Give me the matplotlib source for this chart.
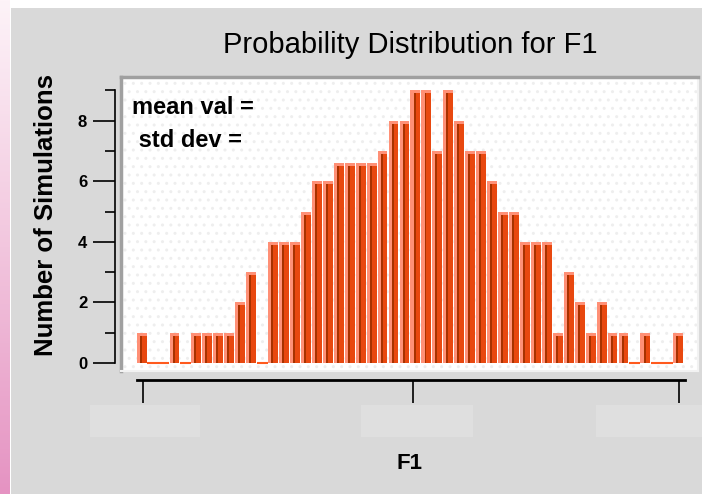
import numpy as np
import matplotlib.pyplot as plt
from matplotlib.patches import Rectangle
from matplotlib.colors import LinearSegmentedColormap

# histogram counts, one per bin
counts = [1, 0, 0, 1, 0, 1, 1, 1, 1, 2, 3, 0, 4, 4, 4, 5, 6, 6, 6.6, 6.6,
          6.6, 6.6, 7, 8, 8, 9, 9, 7, 9, 8, 7, 7, 6, 5, 5, 4, 4, 4, 1, 3,
          2, 1, 2, 1, 1, 0, 1, 0, 0, 1]
yticks_major = [0, 2, 4, 6, 8]
yticks_minor = [1, 3, 5, 7, 9]
title = "Probability Distribution for F1"
xlabel = "F1"
ylabel = "Number of Simulations"
stats_text = ["mean val =", " std dev ="]

plt.rcParams['font.family'] = ['Liberation Sans', 'DejaVu Sans']

W, H = 702, 494
fig = plt.figure(figsize=(W / 100, H / 100), dpi=100)
fig.patch.set_facecolor("white")

def fx(px):
    return px / W

def fy(py):
    return 1 - py / H

# grey panel + pink strip on the left
fig.patches.append(Rectangle((fx(11), 0), 1, fy(8), transform=fig.transFigure,
                             facecolor="#D9D9D9", edgecolor="none", zorder=-2))
axp = fig.add_axes([0, 0, fx(10), 1])
grad = np.linspace(0, 1, 200).reshape(-1, 1)
pink = LinearSegmentedColormap.from_list("p", ["#FDF3F8", "#F2C6DE", "#E593C2"])
axp.imshow(grad, aspect="auto", cmap=pink)
axp.axis("off")

# blank tick label boxes
for a, b in [(90, 200), (361, 473), (596, 702)]:
    fig.patches.append(Rectangle((fx(a), fy(437)), fx(b - a), fy(405) - fy(437),
                                 transform=fig.transFigure, facecolor="#DFDFDF",
                                 edgecolor="none", zorder=-1))

# main plot box
left, right, top, bottom = 121, 698, 77, 371
ax = fig.add_axes([fx(left), fy(bottom), fx(right - left), fy(top) - fy(bottom)])
ax.set_facecolor("white")
ax.patch.set_hatch("..")
ax.patch.set_edgecolor("#EEEEEE")
ax.patch.set_linewidth(0)

x = np.arange(len(counts))
h = np.array(counts, dtype=float)
ax.bar(x, h, width=0.9, color="#FF9076", zorder=2)
hd = np.where(h > 0, h - 0.1, 0)
ax.bar(x + 0.14, hd, width=0.62, color="#E8480F", zorder=3)
ax.bar(x - 0.08, hd, width=0.18, color="#A83200", zorder=4)
for xi in x[h == 0]:
    ax.hlines(0, xi - 0.5, xi + 0.5, color="#FF5A1E", lw=1.5, zorder=3)

ax.set_xlim(-1.88, 50.8)
ax.set_ylim(-0.264, 9.44)
ax.set_xticks([])
ax.set_yticks([])
for s in ["top", "left"]:
    ax.spines[s].set_color("#A0A0A0")
    ax.spines[s].set_linewidth(2.5)
for s in ["right", "bottom"]:
    ax.spines[s].set_color("#F2F2F2")
    ax.spines[s].set_linewidth(1.5)

for i, t in enumerate(stats_text):
    ax.text((132 - left) / (right - left), 1 - (107 + 33 * i - top) / (bottom - top),
            t, transform=ax.transAxes, fontsize=17, fontweight="bold",
            va="center", ha="left", zorder=5)

# separate y axis to the left of the box
axy = fig.add_axes([fx(115), fy(bottom), 0.001, fy(top) - fy(bottom)])
axy.patch.set_visible(False)
for s in ["top", "right", "bottom"]:
    axy.spines[s].set_visible(False)
axy.spines["left"].set_linewidth(1.2)
axy.spines["left"].set_bounds(0, 9)
axy.set_ylim(ax.get_ylim())
axy.set_xticks([])
axy.set_yticks(yticks_major)
axy.set_yticks(yticks_minor, minor=True)
axy.set_yticklabels([str(v) for v in yticks_major], fontweight="bold", fontsize=12)
axy.tick_params(axis="y", which="major", length=16, width=1.2, pad=4)
axy.tick_params(axis="y", which="minor", length=7, width=1.2)

# separate x axis below the box
axx = fig.add_axes([fx(left), fy(380), fx(right - left), 0.001])
axx.patch.set_visible(False)
for s in ["top", "left", "right"]:
    axx.spines[s].set_visible(False)
axx.spines["bottom"].set_linewidth(2)
axx.set_xlim(ax.get_xlim())
x0 = (137 - 141.6) / 10.95
x1 = (685 - 141.6) / 10.95
axx.spines["bottom"].set_bounds(x0, x1)
axx.set_xticks([(143 - 141.6) / 10.95, (413 - 141.6) / 10.95, (679 - 141.6) / 10.95])
axx.set_xticklabels([])
axx.set_yticks([])
axx.tick_params(axis="x", length=16.5, width=1.2)

fig.text(fx(410), fy(45), title, ha="center", va="center", fontsize=21)
fig.text(fx(410), fy(463), xlabel, ha="center", va="center", fontsize=16,
         fontweight="bold")
fig.text(fx(46), fy(215), ylabel, ha="center", va="center", fontsize=18.5,
         fontweight="bold", rotation=90)

fig.savefig("out.png", dpi=100)
